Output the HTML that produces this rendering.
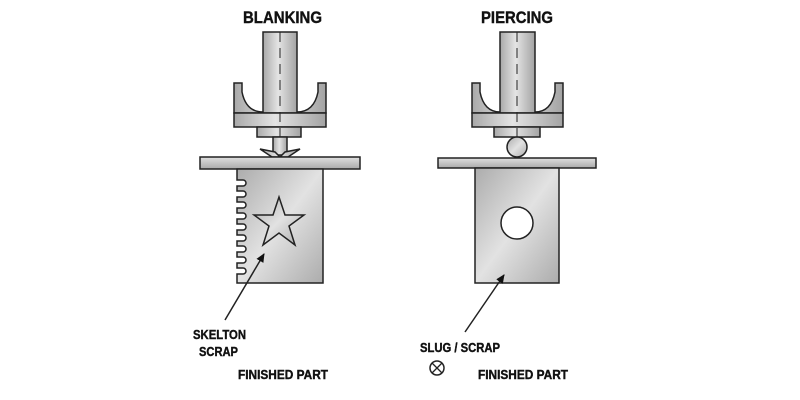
<!DOCTYPE html>
<html><head><style>body{margin:0;background:#fff}svg{display:block}</style></head><body>
<svg width="800" height="400" xmlns="http://www.w3.org/2000/svg" font-family="Liberation Sans, sans-serif" font-weight="bold">
<defs>
<linearGradient id="g" x1="0" y1="0" x2="1" y2="0"><stop offset="0" stop-color="#a9a9a9"/><stop offset="0.45" stop-color="#e4e4e4"/><stop offset="1" stop-color="#a3a3a3"/></linearGradient>
<linearGradient id="b" x1="0" y1="0" x2="1" y2="1"><stop offset="0" stop-color="#acacac"/><stop offset="0.5" stop-color="#e2e2e2"/><stop offset="1" stop-color="#acacac"/></linearGradient>
<linearGradient id="p" x1="0" y1="0" x2="0" y2="1"><stop offset="0" stop-color="#e0e0e0"/><stop offset="1" stop-color="#aaa"/></linearGradient>
<marker id="a" markerWidth="10" markerHeight="10" refX="8" refY="5" orient="auto" markerUnits="userSpaceOnUse"><path d="M0,1 L9,5 L0,9 z" fill="#111"/></marker>
</defs>
<g stroke="#222" stroke-width="1.5">
<!-- BLANKING -->
<path d="M234,83 H242 V92 Q246,112 263,112 H297 Q314,112 318,92 V83 H326 V113 H234 Z" fill="url(#g)"/>
<rect x="263" y="32" width="34" height="81" fill="url(#g)"/>
<rect x="234" y="113" width="92" height="14" fill="url(#g)"/>
<rect x="257" y="127" width="44" height="10" fill="url(#g)"/>
<rect x="273" y="137" width="14" height="18" fill="url(#g)"/>
<path d="M260,149 L275,152 L280,157 L285,152 L300,149 L288,157 L272,157 Z" fill="url(#g)"/>
<rect x="200" y="157" width="160" height="12" fill="url(#p)"/>
<path d="M237,169 H323 V283 H237 V274 h6 a3,3 0 0 0 0,-6 h-6 v-5 h6 a3,3 0 0 0 0,-6 h-6 v-5 h6 a3,3 0 0 0 0,-6 h-6 v-5 h6 a3,3 0 0 0 0,-6 h-6 v-5 h6 a3,3 0 0 0 0,-6 h-6 v-5 h6 a3,3 0 0 0 0,-6 h-6 v-5 h6 a3,3 0 0 0 0,-6 h-6 v-5 h6 a3,3 0 0 0 0,-6 h-6 v-5 h6 a3,3 0 0 0 0,-6 h-6 Z" fill="url(#b)"/>
<polygon points="279,197 285,215 304,215 289,226 295,245 279,233 263,245 269,226 254,215 273,215" fill="url(#b)"/>
<line x1="280" y1="32" x2="280" y2="137" stroke-dasharray="10,6" stroke-width="1"/>
<!-- PIERCING -->
<path d="M472,83 H480 V92 Q484,112 500,112 H535 Q551,112 555,92 V83 H563 V113 H472 Z" fill="url(#g)"/>
<rect x="500" y="32" width="35" height="81" fill="url(#g)"/>
<rect x="472" y="113" width="91" height="14" fill="url(#g)"/>
<rect x="494" y="127" width="46" height="10" fill="url(#g)"/>
<circle cx="517" cy="147" r="10" fill="url(#b)"/>
<rect x="438" y="158" width="158" height="10" fill="url(#p)"/>
<rect x="475" y="168" width="84" height="115" fill="url(#b)"/>
<circle cx="517" cy="223" r="16" fill="#fff"/>
<line x1="517" y1="32" x2="517" y2="137" stroke-dasharray="10,6" stroke-width="1"/>
<line x1="225" y1="320" x2="264" y2="254" marker-end="url(#a)"/>
<line x1="465" y1="332" x2="504" y2="275" marker-end="url(#a)"/>
<circle cx="437" cy="368" r="7" fill="none"/>
<path d="M432,363 L442,373 M442,363 L432,373" stroke-width="1.3"/>
</g>
<g fill="#111" stroke="#111" stroke-width="0.4">
<text x="243" y="23" font-size="17" textLength="79" lengthAdjust="spacingAndGlyphs">BLANKING</text>
<text x="481" y="23" font-size="17" textLength="72" lengthAdjust="spacingAndGlyphs">PIERCING</text>
<text x="193" y="339" font-size="13" textLength="53" lengthAdjust="spacingAndGlyphs">SKELTON</text>
<text x="199" y="356" font-size="13" textLength="39" lengthAdjust="spacingAndGlyphs">SCRAP</text>
<text x="238" y="379" font-size="13" textLength="90" lengthAdjust="spacingAndGlyphs">FINISHED PART</text>
<text x="420" y="352" font-size="13" textLength="80" lengthAdjust="spacingAndGlyphs">SLUG / SCRAP</text>
<text x="478" y="379" font-size="13" textLength="90" lengthAdjust="spacingAndGlyphs">FINISHED PART</text>
</g>
</svg>
</body></html>
